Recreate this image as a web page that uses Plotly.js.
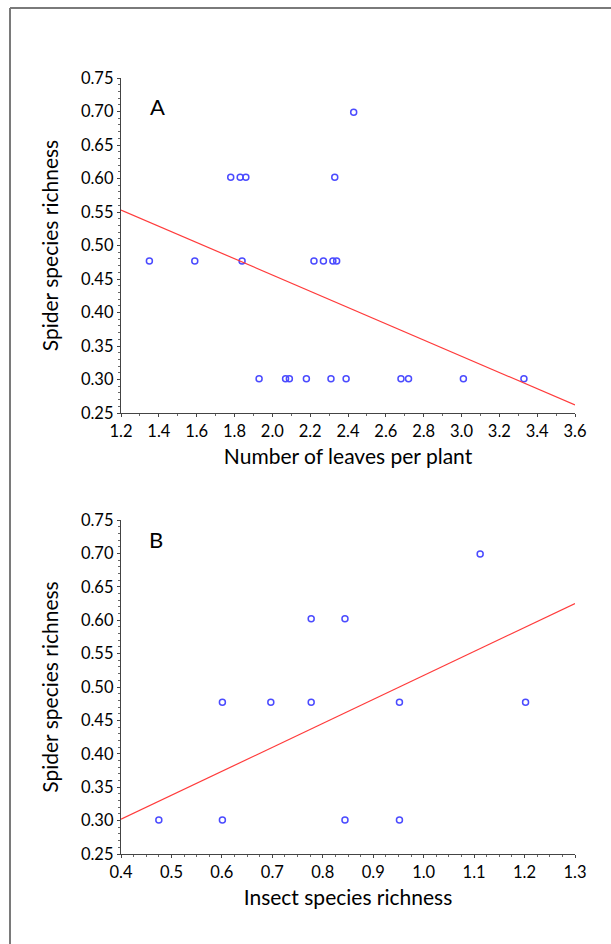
<!DOCTYPE html>
<html>
<head>
<meta charset="utf-8">
<script src="https://cdn.plot.ly/plotly-3.0.1.min.js"></script>
<style>html,body{margin:0;padding:0;background:#fff;}#chart{width:611px;height:944px;}</style>
</head>
<body>
<div id="chart"></div>
<script>
// Panel A: number of leaves per plant vs spider species richness
const leavesX = [1.35, 1.59, 1.84, 2.22, 2.27, 2.32, 2.34,
                 1.78, 1.83, 1.86, 2.33,
                 2.43,
                 1.93, 2.07, 2.09, 2.18, 2.31, 2.39, 2.68, 2.72, 3.01, 3.33];
const spiderA = [0.477, 0.477, 0.477, 0.477, 0.477, 0.477, 0.477,
                 0.602, 0.602, 0.602, 0.602,
                 0.699,
                 0.301, 0.301, 0.301, 0.301, 0.301, 0.301, 0.301, 0.301, 0.301, 0.301];
const fitAX = [1.2, 3.6];
const fitAY = [0.553, 0.262];

// Panel B: insect species richness vs spider species richness
const insectX = [0.475, 0.601, 0.601, 0.697, 0.777, 0.777, 0.844, 0.844, 0.952, 0.952, 1.112, 1.202];
const spiderB = [0.301, 0.301, 0.477, 0.477, 0.477, 0.602, 0.602, 0.301, 0.477, 0.301, 0.699, 0.477];
const fitBX = [0.4, 1.3];
const fitBY = [0.302, 0.625];

const xTicksA = [1.2, 1.4, 1.6, 1.8, 2.0, 2.2, 2.4, 2.6, 2.8, 3.0, 3.2, 3.4, 3.6];
const xTicksB = [0.4, 0.5, 0.6, 0.7, 0.8, 0.9, 1.0, 1.1, 1.2, 1.3];
const yTicks = [0.25, 0.30, 0.35, 0.40, 0.45, 0.50, 0.55, 0.60, 0.65, 0.70, 0.75];

const FONT = 'Lato, "Open Sans", sans-serif';
const markerStyle = {symbol: 'circle-open', size: 6, color: '#4b4bff', line: {width: 1.5, color: '#4b4bff'}};
const lineStyle = {color: '#ff3b3b', width: 1.2};

const traces = [
  {x: leavesX, y: spiderA, mode: 'markers', type: 'scatter', marker: markerStyle, xaxis: 'x', yaxis: 'y', cliponaxis: false},
  {x: fitAX, y: fitAY, mode: 'lines', type: 'scatter', line: lineStyle, xaxis: 'x', yaxis: 'y'},
  {x: insectX, y: spiderB, mode: 'markers', type: 'scatter', marker: markerStyle, xaxis: 'x2', yaxis: 'y2', cliponaxis: false},
  {x: fitBX, y: fitBY, mode: 'lines', type: 'scatter', line: lineStyle, xaxis: 'x2', yaxis: 'y2'}
];

function xAxis(range, ticks, fmt, minorStep, titleText, anchor, domain) {
  return {
    domain: domain, anchor: anchor, range: range,
    tickmode: 'array', tickvals: ticks, ticktext: ticks.map(v => v.toFixed(fmt)),
    ticks: 'outside', ticklen: 3, tickwidth: 1, tickcolor: '#444',
    minor: {dtick: minorStep, ticks: 'outside', ticklen: 2, tickcolor: '#666'},
    showline: true, linecolor: '#444', linewidth: 1.2, mirror: false,
    showgrid: false, zeroline: false,
    tickfont: {family: FONT, size: 16.5, color: '#000'},
    title: {text: titleText, font: {family: FONT, size: 21, color: '#000'}, standoff: 9}
  };
}
function yAxis(anchor, domain) {
  return {
    domain: domain, anchor: anchor, range: [0.25, 0.75],
    tickmode: 'array', tickvals: yTicks, ticktext: yTicks.map(v => v.toFixed(2)),
    ticks: 'outside', ticklen: 3, tickwidth: 1, tickcolor: '#444',
    minor: {dtick: 0.01, ticks: 'outside', ticklen: 2, tickcolor: '#666'},
    showline: true, linecolor: '#444', linewidth: 1.2,
    showgrid: false, zeroline: false,
    tickfont: {family: FONT, size: 16.5, color: '#000'},
    title: {text: 'Spider species richness', font: {family: FONT, size: 21, color: '#000'}, standoff: 16}
  };
}

const layout = {
  width: 611, height: 944,
  margin: {l: 0, r: 0, t: 0, b: 0},
  paper_bgcolor: '#fff', plot_bgcolor: '#fff',
  showlegend: false,
  xaxis: xAxis([1.2, 3.6], xTicksA, 1, 0.1, 'Number of leaves per plant', 'y', [121/611, 575/611]),
  yaxis: yAxis('x', [(944-413)/944, (944-78)/944]),
  xaxis2: xAxis([0.4, 1.3], xTicksB, 1, 0.025, 'Insect species richness', 'y2', [121/611, 575/611]),
  yaxis2: yAxis('x2', [(944-854)/944, (944-520)/944]),
  annotations: [
    {text: 'A', xref: 'paper', yref: 'paper', x: 157/611, y: (944-107)/944, showarrow: false,
     font: {family: FONT, size: 22, color: '#000'}, xanchor: 'center', yanchor: 'middle'},
    {text: 'B', xref: 'paper', yref: 'paper', x: 156/611, y: (944-539)/944, showarrow: false,
     font: {family: FONT, size: 22, color: '#000'}, xanchor: 'center', yanchor: 'middle'}
  ],
  shapes: [
    {type: 'line', xref: 'paper', yref: 'paper', x0: 10/611, x1: 10/611, y0: -0.01, y1: (944-8)/944,
     line: {color: '#7a7a7a', width: 2}},
    {type: 'line', xref: 'paper', yref: 'paper', x0: 10/611, x1: 1.01, y0: (944-8)/944, y1: (944-8)/944,
     line: {color: '#7a7a7a', width: 2}}
  ]
};

Plotly.newPlot('chart', traces, layout, {staticPlot: true, displayModeBar: false});
</script>
</body>
</html>
